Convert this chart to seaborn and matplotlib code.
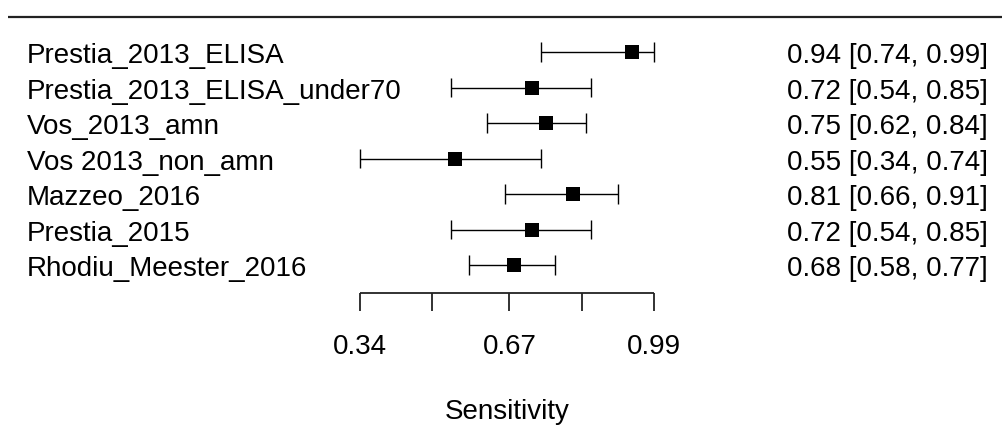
import matplotlib
matplotlib.use("Agg")
import matplotlib.pyplot as plt
import seaborn as sns
import pandas as pd

# ---- data ----
studies = ["Prestia_2013_ELISA", "Prestia_2013_ELISA_under70", "Vos_2013_amn",
           "Vos 2013_non_amn", "Mazzeo_2016", "Prestia_2015", "Rhodiu_Meester_2016"]
estimate = [0.94, 0.72, 0.75, 0.55, 0.81, 0.72, 0.68]
ci_low = [0.74, 0.54, 0.62, 0.34, 0.66, 0.54, 0.58]
ci_high = [0.99, 0.85, 0.84, 0.74, 0.91, 0.85, 0.77]
tick_values = [0.34, 0.50, 0.67, 0.83, 0.99]
tick_labels = ["0.34", "", "0.67", "", "0.99"]
x_label = "Sensitivity"

df = pd.DataFrame({"study": studies, "est": estimate, "lo": ci_low, "hi": ci_high})
df["row"] = range(len(df))

sns.set_theme(style="white")
plt.rcParams["font.family"] = ["Liberation Sans", "DejaVu Sans"]

fig = plt.figure(figsize=(10.03, 4.29), dpi=100)
ax = fig.add_axes([0, 0, 1, 1])
for s in ax.spines.values():
    s.set_visible(False)
ax.set_xticks([])
ax.set_yticks([])

# pixel mapping: 0.34 -> 360px, 0.99 -> 654.3px ; row0 -> 52px, spacing 35.5px
ppu = (654.3 - 360) / 0.65
x0 = 0.34 - 360 / ppu
x1 = 0.34 + (1003 - 360) / ppu
ax.set_xlim(x0, x1)
ax.set_ylim((429 - 52) / 35.5, -52 / 35.5)

def px2x(p):
    return x0 + p / ppu

def py2r(p):
    return (p - 52) / 35.5

# top line
ax.hlines(py2r(17), px2x(8), x1, color="#222222", lw=1.6)

# error bars
ax.hlines(df["row"], df["lo"], df["hi"], color="black", lw=1.0)
cap = 0.27
ax.vlines(df["lo"], df["row"] - cap, df["row"] + cap, color="black", lw=1.0)
ax.vlines(df["hi"], df["row"] - cap, df["row"] + cap, color="black", lw=1.0)

# points
sns.scatterplot(data=df, x="est", y="row", marker="s", s=95, color="black",
                edgecolor="black", linewidth=0, ax=ax, zorder=3, legend=False)
ax.set_xlabel("")
ax.set_ylabel("")
ax.set_xticks([])
ax.set_yticks([])

fs = 20
for _, r in df.iterrows():
    ax.text(px2x(27), r["row"] + 0.31, r["study"], ha="left", va="baseline", fontsize=fs, color="black")
    ax.text(px2x(988), r["row"] + 0.31, f"{r['est']:.2f} [{r['lo']:.2f}, {r['hi']:.2f}]",
            ha="right", va="baseline", fontsize=fs, color="black")

# axis
ya = py2r(293)
yt = py2r(311)
ax.hlines(ya, tick_values[0], tick_values[-1], color="#222222", lw=1.3)
ax.vlines(tick_values, ya, yt, color="#222222", lw=1.3)
for v, lab in zip(tick_values, tick_labels):
    if lab:
        ax.text(v, py2r(347), lab, ha="center", va="center", fontsize=fs, color="black")

ax.text((tick_values[0] + tick_values[-1]) / 2, py2r(412), x_label, ha="center", va="center",
        fontsize=fs, color="black")

fig.savefig("out.png", dpi=100)
